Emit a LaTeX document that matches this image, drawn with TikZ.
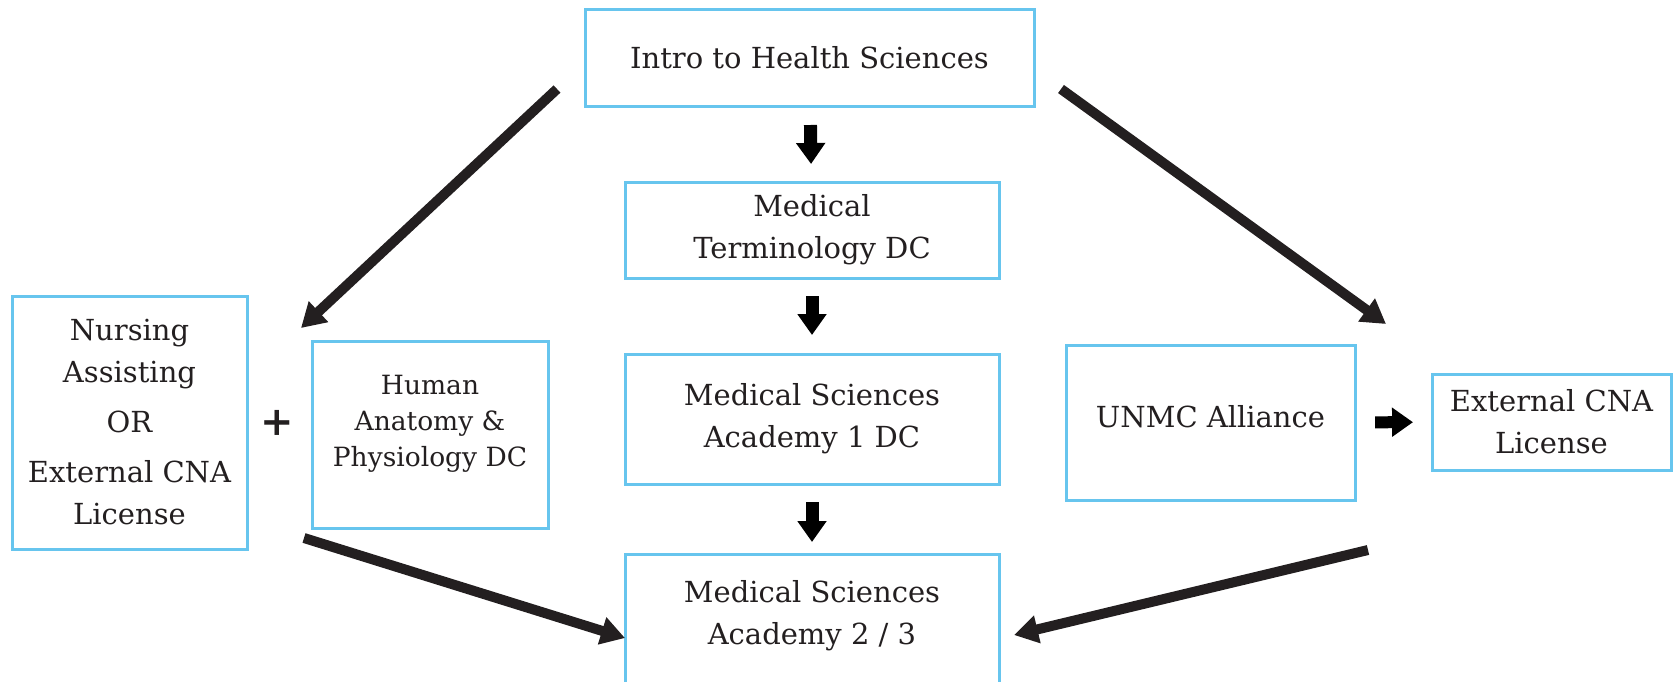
\documentclass[tikz,border=0pt]{standalone}
\usepackage{fontspec}
\setmainfont{DejaVu Serif}
\usetikzlibrary{arrows.meta,calc}
\definecolor{boxblue}{RGB}{103,197,238}
\definecolor{inkgray}{RGB}{35,31,32}
\tikzset{
  box/.style={draw=boxblue,line width=3pt,align=center,text=inkgray,inner sep=0pt,outer sep=0pt,
    font=\fontsize{29}{42}\selectfont},
  boxtext/.style={align=center,text=inkgray,inner sep=0pt,font=\fontsize{29}{42}\selectfont},
  fat/.style={-{Triangle[length=21pt,width=28pt]},line width=13pt,draw=black},
  slant/.style={-{Triangle[length=24pt,width=27pt]},line width=10pt,draw=inkgray},
}

\begin{document}
\begin{tikzpicture}[x=1pt,y=-1pt]
  \useasboundingbox (0,0) rectangle (1676,681);
  % course boxes
  \node[box,minimum width=449,minimum height=97] (intro) at (809.5,57.5) {Intro to Health Sciences};
  \node[box,minimum width=374,minimum height=96] (medterm) at (812,230) {Medical\\Terminology DC};
  \node[box,minimum width=374,minimum height=130] (msa1) at (812,419) {Medical Sciences\\Academy 1 DC};
  \node[box,draw=none,minimum width=374,minimum height=124] (msa2) at (812,616) {Medical Sciences\\Academy 2 / 3};
  \draw[draw=boxblue,line width=3pt] ($(msa2.south west)+(0,20)$) |- (msa2.north) -| ($(msa2.south east)+(0,20)$);
  \node[box,minimum width=235,minimum height=253] (nursing) at (129.5,422.5)
    {Nursing\\Assisting\\[8pt]OR\\[8pt]External CNA\\License};
  \node[box,minimum width=236,minimum height=187] (anatomy) at (430,434.5) {};
  \node[boxtext,font=\fontsize{26.5}{36}\selectfont] (anatomytext) at (430,423.5)
    {Human\\Anatomy \&\\Physiology DC};
  \node[text=inkgray,font=\fontsize{40}{40}\selectfont\bfseries] (plus) at (277,423) {+};
  \node[box,minimum width=289,minimum height=155] (unmc) at (1210.5,422.5) {};
  \node[boxtext] (unmctext) at (1210.5,416.5) {UNMC Alliance};
  \node[box,minimum width=239,minimum height=96] (extcna) at (1551.5,422) {External CNA\\License};

  % straight arrows
  \draw[fat,shorten <=19pt,shorten >=18pt] (intro) -- (medterm);
  \draw[fat,shorten <=18pt,shorten >=19pt] (medterm) -- (msa1);
  \draw[fat,shorten <=18pt,shorten >=12pt] (msa1) -- (msa2.north);
  \draw[fat,line width=12pt,shorten <=20pt,shorten >=19pt] (unmc) -- (extcna);

  % slanted arrows
  \coordinate (leftTop) at (557,89);
  \coordinate (leftEnd) at (301,328);
  \coordinate (rightTop) at (1061,89);
  \coordinate (rightEnd) at (1386,324);
  \coordinate (lowLeft) at (304,538);
  \coordinate (lowRight) at (1368,550);
  \draw[slant] (leftTop) -- (leftEnd);
  \draw[slant] (rightTop) -- (rightEnd);
  \draw[slant] (lowLeft) -- (msa2.west |- 0,638);
  \draw[slant] (lowRight) -- (1014,635);
\end{tikzpicture}
\end{document}
